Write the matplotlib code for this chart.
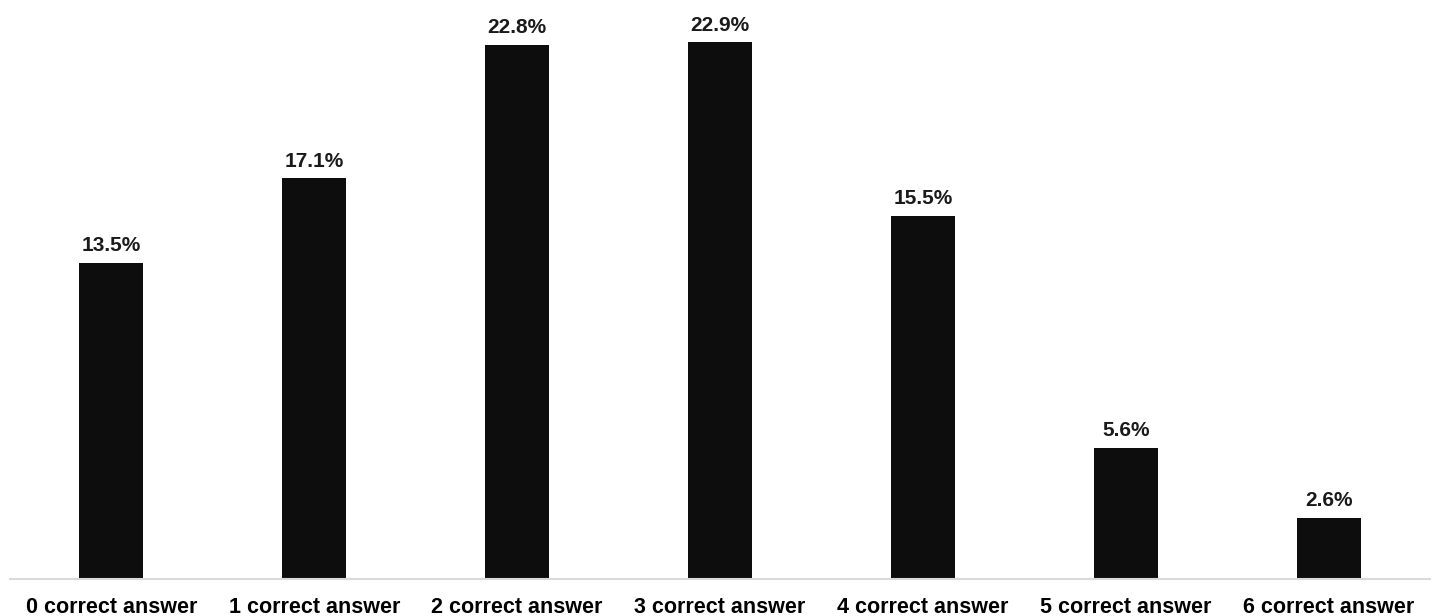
import matplotlib
matplotlib.use("Agg")
import matplotlib.pyplot as plt

categories = ["0 correct answer", "1 correct answer", "2 correct answer",
              "3 correct answer", "4 correct answer", "5 correct answer",
              "6 correct answer"]
values = [13.5, 17.1, 22.8, 22.9, 15.5, 5.6, 2.6]
value_labels = ["13.5%", "17.1%", "22.8%", "22.9%", "15.5%", "5.6%", "2.6%"]

plt.rcParams['font.family'] = ['Liberation Sans', 'DejaVu Sans']

fig = plt.figure(figsize=(14.4, 6.16), dpi=100)
ax = fig.add_axes([10 / 1440, 37 / 616, 1420 / 1440, 579 / 616])

x = range(len(categories))
bars = ax.bar(x, values, width=0.315, color="#0d0d0d")

for bar, lab in zip(bars, value_labels):
    ax.annotate(lab, (bar.get_x() + bar.get_width() / 2, bar.get_height()),
                xytext=(0, 5.5), textcoords="offset points",
                ha="center", va="bottom", fontsize=15, fontweight="bold",
                color="#1a1a1a")

ax.set_xlim(-0.5, len(categories) - 0.5)
ax.set_ylim(0, 24.7)
ax.set_xticks(list(x))
ax.set_xticklabels(categories, fontsize=15.5, fontweight="bold")
ax.tick_params(axis="x", length=0, pad=13)
ax.set_yticks([])

for side in ["top", "left", "right"]:
    ax.spines[side].set_visible(False)
ax.spines["bottom"].set_color("#d9d9d9")
ax.spines["bottom"].set_linewidth(1.5)

fig.savefig("out.png", dpi=100)
